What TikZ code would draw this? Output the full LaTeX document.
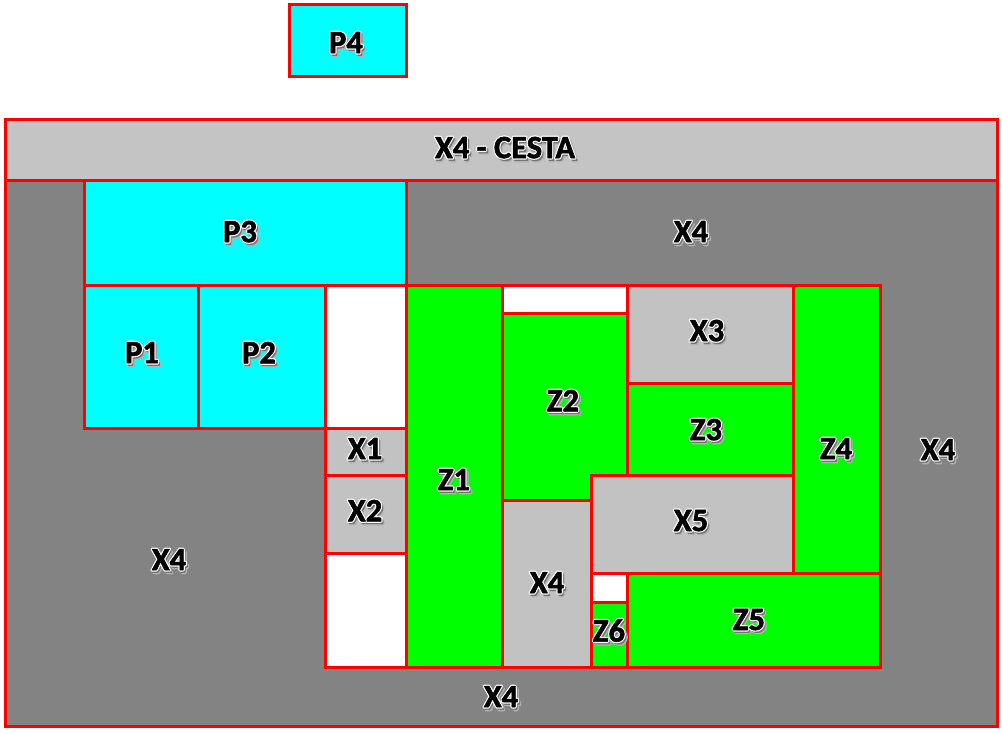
\documentclass[tikz,border=0pt]{standalone}
\usepackage{fontspec}
\setmainfont{Carlito}
\definecolor{cyanbox}{HTML}{00FFFF}
\definecolor{greenbox}{HTML}{00FF00}
\definecolor{lightbox}{HTML}{C2C2C2}
\definecolor{darkbg}{HTML}{838383}
\definecolor{bandbg}{HTML}{C4C4C4}
\newcommand\olt[1]{\leavevmode
  \rlap{\kern2.2pt\raisebox{-2.8pt}{\color{black!30}\special{pdf:code q 2 Tr 2.6 w 1 j}#1\special{pdf:code Q}}}%
  \rlap{\kern1.5pt\raisebox{-2pt}{\color{black!55}\special{pdf:code q 2 Tr 1.6 w 1 j}#1\special{pdf:code Q}}}%
  \rlap{\color{white}\special{pdf:code q 1 Tr 3.0 w 1 j}#1\special{pdf:code Q}}%
  {\color{black}\special{pdf:code q 2 Tr 0.6 w 1 j}#1\special{pdf:code Q}}}
\newcommand\mkcell[6]{\node[cellbox, fill=#6, minimum width={(#4-#2)*1pt}, minimum height={(#5-#3)*1pt}] (#1) at (#2,#3) {};}
\begin{document}
\begin{tikzpicture}[x=1pt,y=-1pt,
  cellbox/.style={draw=red, line width=3pt, inner sep=0pt, outer sep=0pt, anchor=north west},
  lbl/.style={font=\bfseries\fontsize{32.5}{33}\selectfont, inner sep=0pt}]
\useasboundingbox[fill=white] (0,0) rectangle (1003,733);
% outer area
\mkcell{bg}{5}{120}{997}{726}{darkbg}
\mkcell{band}{5}{120}{997}{180}{bandbg}
\mkcell{P4}{289}{5}{406}{77}{cyanbox}
\mkcell{P3}{84}{180}{406}{285}{cyanbox}
\mkcell{P1}{84}{285}{198}{428}{cyanbox}
\mkcell{P2}{198}{285}{325}{428}{cyanbox}
\mkcell{W1}{325}{285}{406}{428}{white}
\mkcell{X1}{325}{428}{406}{475}{lightbox}
\mkcell{X2}{325}{475}{406}{553}{lightbox}
\mkcell{W2}{325}{553}{406}{667}{white}
\mkcell{Z1}{406}{285}{502}{667}{greenbox}
\mkcell{W3}{502}{285}{627}{313}{white}
\mkcell{Z2}{502}{313}{627}{500}{greenbox}
\mkcell{X4m}{502}{500}{591}{667}{lightbox}
\mkcell{X3}{627}{285}{793}{383}{lightbox}
\mkcell{Z3}{627}{383}{793}{475}{greenbox}
\mkcell{X5}{591}{475}{793}{573}{lightbox}
\mkcell{W4}{591}{573}{627}{602}{white}
\mkcell{Z6}{591}{602}{627}{667}{greenbox}
\mkcell{Z4}{793}{285}{880}{573}{greenbox}
\mkcell{Z5}{627}{573}{880}{667}{greenbox}
% labels
\node[lbl] (tP4) at (346,44) {\olt{P4}};
\node[lbl] (tband) at (505,149) {\olt{X4 - CESTA}};
\node[lbl] (tP3) at (240,233) {\olt{P3}};
\node[lbl] (tX4a) at (691,233) {\olt{X4}};
\node[lbl] (tP1) at (142,354) {\olt{P1}};
\node[lbl] (tP2) at (259,354) {\olt{P2}};
\node[lbl] (tX1) at (365,450) {\olt{X1}};
\node[lbl] (tX2) at (365,512) {\olt{X2}};
\node[lbl] (tX4b) at (169,561) {\olt{X4}};
\node[lbl] (tZ1) at (454,481) {\olt{Z1}};
\node[lbl] (tZ2) at (563,402) {\olt{Z2}};
\node[lbl] (tX3) at (707,332) {\olt{X3}};
\node[lbl] (tZ3) at (706,431) {\olt{Z3}};
\node[lbl] (tZ4) at (836,450) {\olt{Z4}};
\node[lbl] (tX4c) at (938,451) {\olt{X4}};
\node[lbl] (tX5) at (691,522) {\olt{X5}};
\node[lbl] (tX4d) at (547,584) {\olt{X4}};
\node[lbl] (tZ6) at (609,632) {\olt{Z6}};
\node[lbl] (tZ5) at (749,621) {\olt{Z5}};
\node[lbl] (tX4e) at (501,698) {\olt{X4}};
\end{tikzpicture}
\end{document}
